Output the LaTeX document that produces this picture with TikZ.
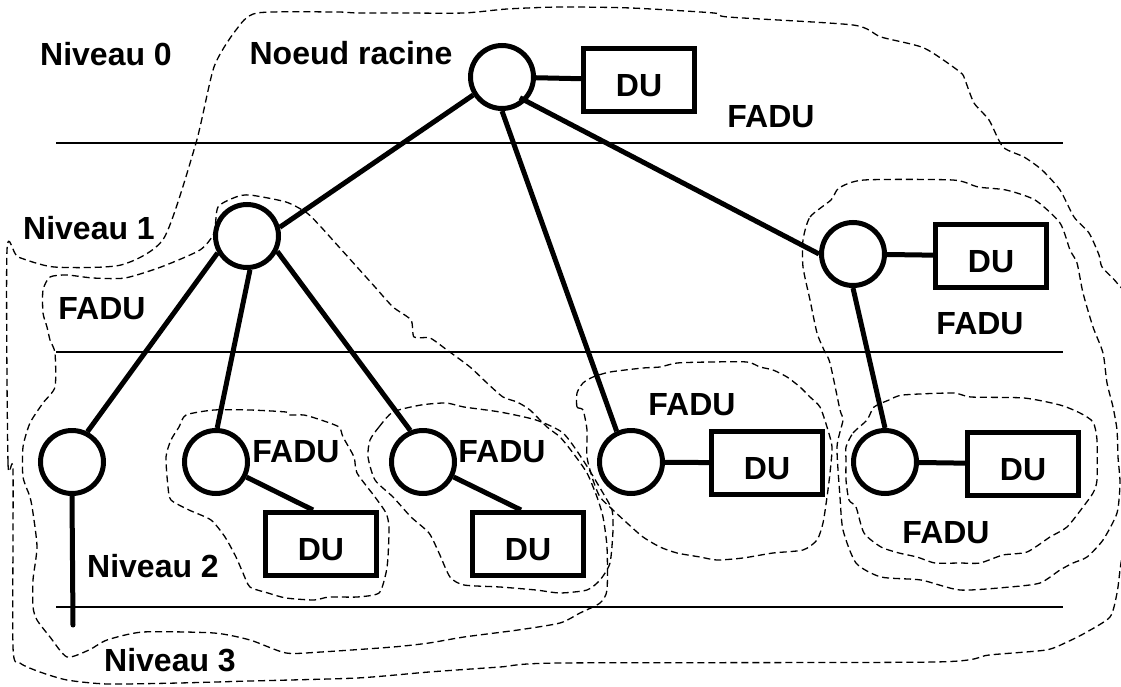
\documentclass[tikz,border=0pt]{standalone}
\usepackage{fontspec}
\setmainfont{Liberation Sans}
\newcommand\lblfont{\fontsize{32}{38}\selectfont\bfseries}
\begin{document}
\begin{tikzpicture}[x=1pt,y=-1pt,
  nd/.style={circle,draw,line width=5pt,minimum size=63pt,inner sep=0pt},
  du/.style={rectangle,draw,line width=5pt,minimum width=111pt,minimum height=63pt,inner sep=0pt,text height=33pt,text depth=0pt,font=\lblfont},
  txt/.style={inner sep=0pt,font=\lblfont},
  edge/.style={line width=5pt},
  level/.style={line width=1.8pt},
  zone/.style={line width=1.3pt,dash pattern=on 7pt off 4pt,line join=round}]
\useasboundingbox (0,0) rectangle (1121,687);

% level separators
\coordinate (s1a) at (56,143); \coordinate (s1b) at (1063,143);
\coordinate (s2a) at (56,352); \coordinate (s2b) at (1063,352);
\coordinate (s3a) at (56,607); \coordinate (s3b) at (1063,607);
\draw[level] (s1a) -- (s1b);
\draw[level] (s2a) -- (s2b);
\draw[level] (s3a) -- (s3b);

% dashed zones
\draw[zone] plot[smooth cycle,tension=0.4] coordinates {
(7,250) (8,463) (13,470) (13,647) (20,663) (40,672) (67,680) (107,684) (179,683) (250,681) (357,678) (429,672) (500,667) (560,663) (935,662) (989,655) (1046,650) (1067,642) (1085,633) (1110,617) (1117,593) (1120,570) (1126,520) (1128,400) (1125,300) (1117,283) (1102,267) (1099,255) (1089,233) (1074,217) (1060,190) (1042,170) (1024,157) (1003,147) (989,120) (974,103) (965,80) (960,72) (924,48) (881,37) (853,25) (728,17) (714,13) (631,8) (560,7) (507,9) (464,13) (400,13) (357,13) (336,12) (257,13) (236,30) (214,67) (196,143) (164,238) (121,265) (54,267) (18,257)};
\draw[zone] plot[smooth cycle,tension=0.4] coordinates {
(43,290) (50,277) (67,275) (93,278) (125,278) (161,267) (200,250) (214,233) (218,207) (236,197) (250,195) (286,202) (307,213) (321,227) (339,247) (357,267) (375,287) (393,307) (411,320) (414,337) (430,338) (447,350) (470,367) (487,383) (503,397) (517,402) (530,410) (547,427) (560,437) (573,453) (587,473) (597,497) (603,517) (607,547) (607,590) (600,603) (580,613) (560,623) (518,630) (464,637) (429,643) (393,647) (321,652) (286,653) (250,640) (214,633) (143,632) (107,640) (89,650) (67,657) (50,637) (37,620) (33,607) (33,580) (37,547) (33,513) (30,497) (23,477) (23,447) (30,423) (43,403) (55,387) (55,353) (50,340) (47,327) (43,313)};
\draw[zone] plot[smooth cycle,tension=0.4] coordinates {
(186,415) (214,410) (250,410) (286,412) (289,415) (304,415) (321,420) (339,427) (343,437) (354,457) (357,473) (375,497) (386,513) (389,527) (388,557) (386,573) (379,593) (357,597) (329,597) (314,600) (286,598) (268,593) (250,587) (243,573) (236,557) (225,537) (211,520) (189,510) (171,500) (168,487) (166,457) (171,440) (179,427)};
\draw[zone] plot[smooth cycle,tension=0.4] coordinates {
(370,440) (379,427) (393,412) (421,405) (446,403) (464,407) (500,412) (536,420) (563,433) (583,460) (603,493) (612,510) (613,530) (610,563) (600,580) (587,590) (560,593) (536,590) (500,587) (464,585) (450,577) (439,553) (429,533) (411,517) (393,497) (375,480) (368,457)};
\draw[zone] plot[smooth cycle,tension=0.4] coordinates {
(577,393) (577,407) (583,410) (587,430) (587,457) (593,480) (600,497) (613,510) (627,523) (643,537) (660,547) (677,553) (700,557) (717,560) (743,558) (773,553) (803,550) (817,540) (823,523) (827,497) (830,473) (832,447) (827,427) (820,407) (810,397) (800,387) (787,377) (773,370) (760,367) (747,362) (710,362) (677,363) (660,367) (643,368) (610,372) (593,377) (583,383)};
\draw[zone] plot[smooth cycle,tension=0.4] coordinates {
(803,240) (810,217) (831,200) (839,188) (864,180) (953,180) (978,187) (1006,190) (1035,200) (1060,223) (1070,250) (1077,263) (1083,293) (1093,327) (1103,353) (1107,383) (1113,407) (1117,430) (1118,457) (1120,483) (1117,513) (1103,540) (1087,557) (1073,563) (1060,570) (1040,583) (1010,587) (960,590) (921,580) (881,577) (856,563) (843,530) (840,497) (837,447) (843,420) (840,410) (830,363) (824,350) (817,333) (810,300) (803,267)};
\draw[zone] plot[smooth cycle,tension=0.4] coordinates {
(846,447) (853,433) (867,420) (874,407) (889,400) (903,395) (953,393) (971,397) (1024,398) (1060,405) (1080,413) (1093,422) (1097,440) (1097,480) (1093,493) (1083,507) (1067,527) (1050,537) (1027,552) (1003,555) (980,563) (960,563) (935,563) (917,557) (899,553) (881,547) (864,533) (856,507) (849,500) (846,480) (846,460)};

% nodes
\node[nd] (root) at (502,77) {};
\node[du] (D0) at (639,80) {DU};
\node[nd] (L1a) at (247,236) {};
\node[nd] (L1b) at (853,254) {};
\node[du] (D1b) at (991,256) {DU};
\node[nd] (L2a) at (72,462) {};
\node[nd] (L2b) at (216,462) {};
\node[du] (D2b) at (321,544) {DU};
\node[nd] (L2c) at (423,462) {};
\node[du] (D2c) at (528,544) {DU};
\node[nd] (L2d) at (631,462) {};
\node[du] (D2d) at (767,463) {DU};
\node[nd] (L2e) at (885,462) {};
\node[du] (D2e) at (1023,464) {DU};
\coordinate (tail) at (73,625);

% connectors
\draw[edge] (root) -- (D0);
\draw[edge] (root.212) -- (L1a.15);
\draw[edge,shorten <=-7pt] (root.-45) -- (L1b.west);
\draw[edge] (root.south) -- (L2d.115);
\draw[edge] (L1a.210) -- (L2a.63);
\draw[edge] (L1a.-85) -- (L2b.88);
\draw[edge] (L1a.-27) -- (L2c.112);
\draw[edge] (L1b) -- (D1b);
\draw[edge] (L1b.south) -- (L2e.north);
\draw[edge,line cap=round] (L2a.south) -- (tail);
\draw[edge] (L2b) -- ([xshift=-8pt]D2b.north);
\draw[edge] (L2c) -- ([xshift=-7pt]D2c.north);
\draw[edge] (L2d) -- (D2d);
\draw[edge] (L2e) -- (D2e);

% labels
\node[txt] (n0) at (106,54) {Niveau 0};
\node[txt] (nr) at (351,53) {Noeud racine};
\node[txt] (n1) at (89,228) {Niveau 1};
\node[txt] (n2) at (153,566) {Niveau 2};
\node[txt] (n3) at (170,660) {Niveau 3};
\node[txt] (f0) at (771,117) {FADU};
\node[txt] (f1) at (102,309) {FADU};
\node[txt] (f2) at (980,324) {FADU};
\node[txt] (f3) at (296,452) {FADU};
\node[txt] (f4) at (502,452) {FADU};
\node[txt] (f5) at (692,405) {FADU};
\node[txt] (f6) at (946,533) {FADU};
\end{tikzpicture}
\end{document}
